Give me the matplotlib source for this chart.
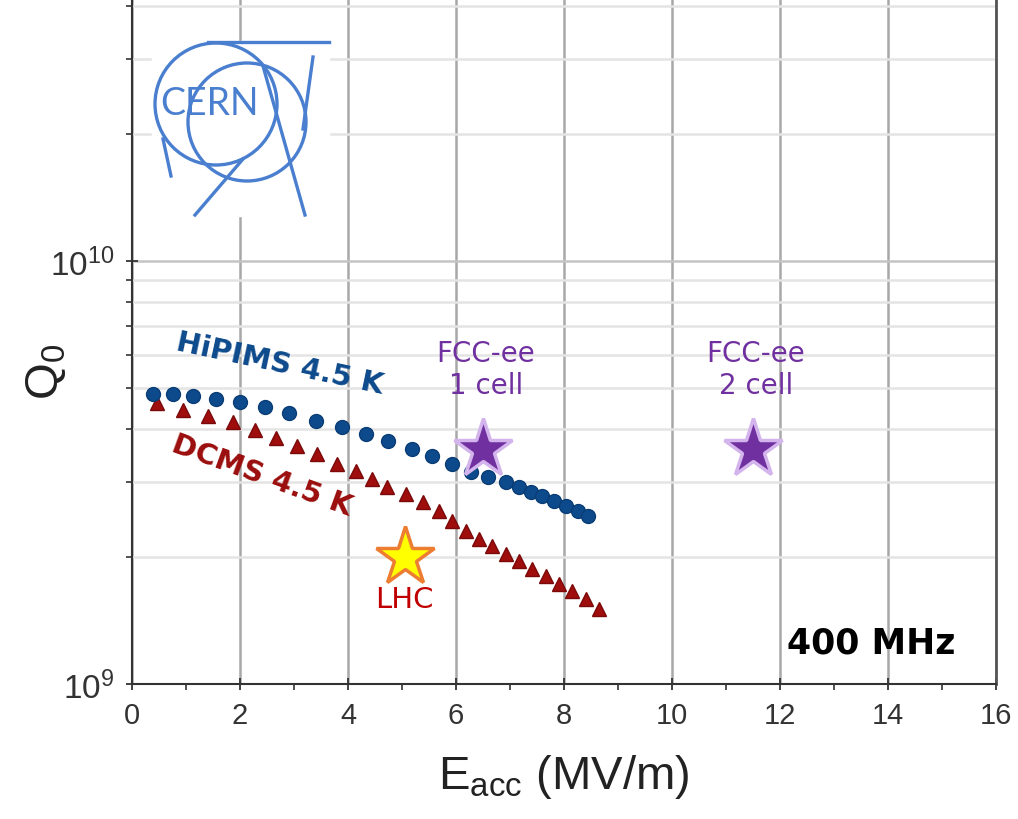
import matplotlib
matplotlib.use("Agg")
import matplotlib.pyplot as plt
from matplotlib.ticker import LogLocator, MultipleLocator, FixedLocator, NullFormatter
from matplotlib.patches import Circle, Rectangle

# HiPIMS 4.5 K (blue circles)
hipims_e = [0.39, 0.76, 1.13, 1.55, 2.00, 2.46, 2.90, 3.40, 3.88, 4.34, 4.75, 5.18,
            5.56, 5.93, 6.28, 6.60, 6.93, 7.17, 7.39, 7.60, 7.82, 8.04, 8.25, 8.45]
hipims_q = [4.85e9, 4.85e9, 4.80e9, 4.72e9, 4.64e9, 4.52e9, 4.37e9, 4.19e9, 4.05e9,
            3.90e9, 3.75e9, 3.59e9, 3.46e9, 3.31e9, 3.17e9, 3.08e9, 3.00e9, 2.92e9,
            2.84e9, 2.78e9, 2.71e9, 2.64e9, 2.56e9, 2.50e9]

# DCMS 4.5 K (red triangles)
dcms_e = [0.46, 0.94, 1.40, 1.87, 2.27, 2.66, 3.05, 3.42, 3.79, 4.14, 4.45, 4.73,
          5.08, 5.38, 5.69, 5.93, 6.19, 6.43, 6.67, 6.93, 7.17, 7.41, 7.67, 7.91,
          8.15, 8.41, 8.65]
dcms_q = [4.62e9, 4.44e9, 4.30e9, 4.16e9, 3.98e9, 3.82e9, 3.65e9, 3.50e9, 3.31e9,
          3.19e9, 3.05e9, 2.92e9, 2.81e9, 2.69e9, 2.56e9, 2.43e9, 2.30e9, 2.20e9,
          2.12e9, 2.03e9, 1.95e9, 1.87e9, 1.80e9, 1.72e9, 1.66e9, 1.59e9, 1.50e9]

# target points
fcc_e = [6.5, 11.5]
fcc_q = [3.6e9, 3.6e9]
fcc_labels = ["FCC-ee\n1 cell", "FCC-ee\n2 cell"]
lhc_e = [5.05]
lhc_q = [2.0e9]

W, H = 1018, 820
fig = plt.figure(figsize=(W / 100, H / 100), dpi=100)
ax = fig.add_axes([132 / W, 135 / H, (996 - 132) / W, 685 / H])

ax.set_yscale("log")
ax.set_xlim(0, 16)
ax.set_ylim(1e9, 4.16e10)

ax.xaxis.set_major_locator(MultipleLocator(2))
ax.xaxis.set_minor_locator(MultipleLocator(1))
ax.yaxis.set_major_locator(FixedLocator([1e9, 1e10]))
ax.yaxis.set_minor_locator(LogLocator(base=10, subs=range(2, 10)))
ax.yaxis.set_minor_formatter(NullFormatter())

ax.grid(True, axis="x", which="major", color="#a8a8a8", lw=1.8)
ax.grid(True, axis="y", which="major", color="#c4c4c4", lw=1.8)
ax.grid(True, axis="y", which="minor", color="#e4e4e4", lw=1.8)
ax.set_axisbelow(True)

for side in ["left", "bottom"]:
    ax.spines[side].set_color("#333333")
    ax.spines[side].set_linewidth(1.5)
ax.spines["right"].set_color("#555555")
ax.spines["right"].set_linewidth(2)
ax.spines["top"].set_visible(False)

ax.tick_params(axis="both", which="major", direction="inout", length=9, width=1.3,
               colors="#333333", pad=8)
ax.tick_params(axis="both", which="minor", direction="out", length=4, width=1.2,
               colors="#333333")
ax.set_xticks([0, 2, 4, 6, 8, 10, 12, 14, 16])
ax.set_xticklabels(["0", "2", "4", "6", "8", "10", "12", "14", "16"],
                   fontdict={"family": "Liberation Sans", "size": 21})
ax.set_yticks([1e9, 1e10])
ax.set_yticklabels([r"$\mathregular{10^9}$", r"$\mathregular{10^{10}}$"],
                   fontdict={"family": "Liberation Sans", "size": 24})

ax.set_xlabel(r"E$_\mathregular{acc}$ (MV/m)", family="Liberation Sans", size=34,
              color="#222222", labelpad=16)
fig.text(46 / W, 1 - 372 / H, r"Q$_\mathregular{0}$", family="Liberation Sans",
         size=34, color="#222222", rotation=90, ha="center", va="center")

ax.plot(hipims_e, hipims_q, "o", ms=10, color="#0d4a8c", mec="#0a3d75", zorder=4)
ax.plot(dcms_e, dcms_q, "^", ms=10.5, color="#a00d0d", mec="#7a0a0a", zorder=3)

ax.plot(fcc_e, fcc_q, "*", ms=44, color="#7030a0", mec="#d4b4ec", mew=2.5, zorder=5)
ax.plot(lhc_e, lhc_q, "*", ms=44, color="#ffff00", mec="#ed7d31", mew=2.5, zorder=5)

for e, lab in zip(fcc_e, fcc_labels):
    ax.text(e + 0.05, 5.55e9, lab, ha="center", va="center", color="#7030a0",
            family="DejaVu Sans", size=20, linespacing=1.15)
ax.text(lhc_e[0], 1.59e9, "LHC", ha="center", va="center", color="#c00000",
        family="DejaVu Sans", size=21)

ax.text(2.74, 5.75e9, "HiPIMS 4.5 K", ha="center", va="center", rotation=-12,
        rotation_mode="anchor", color="#0d4a8c", family="DejaVu Sans",
        weight="bold", size=21)
ax.text(2.40, 3.12e9, "DCMS 4.5 K", ha="center", va="center", rotation=-20,
        rotation_mode="anchor", color="#9b0d0d", family="DejaVu Sans",
        weight="bold", size=21)
ax.text(15.25, 1.25e9, "400 MHz", ha="right", va="center", color="black",
        family="DejaVu Sans", weight="bold", size=25)

# CERN logo, drawn in figure pixels
logo = fig.add_axes([0, 0, 1, 1])
logo.set_xlim(0, W)
logo.set_ylim(H, 0)
logo.axis("off")
blue = "#4a7fd0"
logo.add_patch(Rectangle((152, 42), 177, 175, color="white", zorder=1))
logo.add_patch(Circle((216, 105), 61, fill=False, ec=blue, lw=2.4, zorder=2))
logo.add_patch(Circle((247, 123), 59, fill=False, ec=blue, lw=2.4, zorder=2))
for (x0, y0), (x1, y1) in [((208, 43), (329, 43)), ((313, 58), (303, 130)),
                           ((263, 67), (305, 216)), ((163, 140), (171, 177)),
                           ((243, 160), (195, 216))]:
    logo.plot([x0, x1], [y0, y1], color=blue, lw=2.4, zorder=3)
logo.text(210, 104, "CERN", ha="center", va="center", color=blue,
          family="Lato", size=27, zorder=4)

fig.savefig("out.png", dpi=100)
